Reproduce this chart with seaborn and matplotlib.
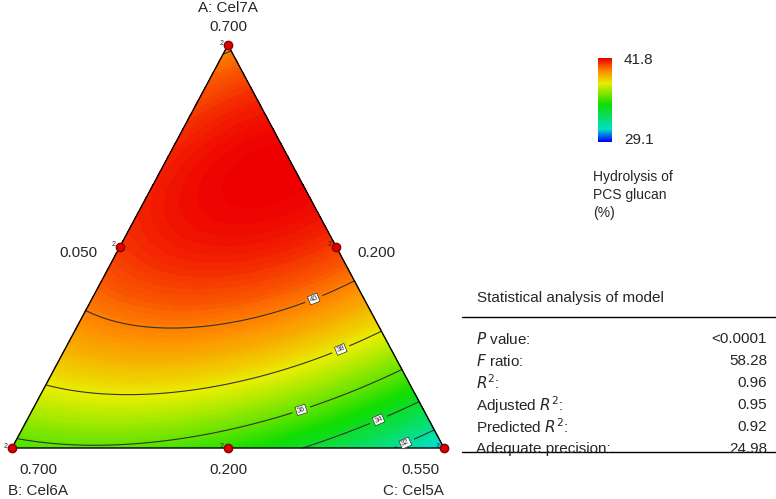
import matplotlib.pyplot as plt
import matplotlib.tri as mtri
import numpy as np
import seaborn as sns
from matplotlib.colors import LinearSegmentedColormap

# Scheffe quadratic model coefficients (pseudo-components A, B, C)
linear_coefs = [39.8, 35.6, 30.6]          # A: Cel7A, B: Cel6A, C: Cel5A
cross_coefs = [13.2, 23.0, 8.0]            # AB, AC, BC
contour_levels = [32, 34, 36, 38, 40]
range_lo, range_hi = 29.1, 41.8

stat_names = ["$P$ value:", "$F$ ratio:", "$R^2$:", "Adjusted $R^2$:", "Predicted $R^2$:", "Adequate precision:"]
stat_values = ["<0.0001", "58.28", "0.96", "0.95", "0.92", "24.98"]

sns.set_style("white")
plt.rcParams["font.family"] = ["Liberation Sans", "DejaVu Sans"]

fig = plt.figure(figsize=(7.76, 4.99), dpi=100)
ax = fig.add_axes([0, 0, 1, 1])
ax.set_xlim(0, 776)
ax.set_ylim(499, 0)
ax.axis("off")

# triangle vertices in pixel space
top = np.array([228, 45]); left = np.array([12, 448]); right = np.array([444, 448])

n = 120
pts, vals = [], []
for i in range(n + 1):
    for j in range(n + 1 - i):
        a = i / n; b = j / n; c = 1 - a - b
        p = a * top + b * left + c * right
        pts.append(p)
        y = (linear_coefs[0] * a + linear_coefs[1] * b + linear_coefs[2] * c
             + cross_coefs[0] * a * b + cross_coefs[1] * a * c + cross_coefs[2] * b * c)
        vals.append(y)
pts = np.array(pts); vals = np.array(vals)
tri = mtri.Triangulation(pts[:, 0], pts[:, 1])

cmap = LinearSegmentedColormap.from_list("de", [
    (0.0, "#0000ff"), (0.15, "#00e0c8"), (0.45, "#10dd00"), (0.7, "#e8ee00"),
    (0.85, "#ff8800"), (1.0, "#ee0000")])
ax.tricontourf(tri, vals, levels=np.linspace(range_lo, range_hi, 120), cmap=cmap, extend="both")
cs = ax.tricontour(tri, vals, levels=contour_levels, colors="#333333", linewidths=0.8)
labels = ax.clabel(cs, fmt="%d", fontsize=5.5, inline=True)
for t in labels:
    t.set_bbox(dict(facecolor="white", edgecolor="#333333", pad=0.6, linewidth=0.5))

# triangle edges
ax.plot([top[0], left[0], right[0], top[0]], [top[1], left[1], right[1], top[1]], color="black", lw=1)

# design points
design = [top, left, right, (top + left) / 2, (top + right) / 2, (left + right) / 2]
for p in design:
    ax.plot(p[0], p[1], "o", color="#dd0000", mec="#880000", ms=6, zorder=5)
    ax.text(p[0] - 6, p[1] - 2, "2", fontsize=5, ha="center", va="center", zorder=6)

fs = 11
ax.text(228, 8, "A: Cel7A", fontsize=fs, ha="center", va="center")
ax.text(228, 27, "0.700", fontsize=fs, ha="center", va="center")
ax.text(78, 253, "0.050", fontsize=fs, ha="center", va="center")
ax.text(376, 253, "0.200", fontsize=fs, ha="center", va="center")
ax.text(38, 470, "0.700", fontsize=fs, ha="center", va="center")
ax.text(228, 470, "0.200", fontsize=fs, ha="center", va="center")
ax.text(420, 470, "0.550", fontsize=fs, ha="center", va="center")
ax.text(8, 491, "B: Cel6A", fontsize=fs, ha="left", va="center")
ax.text(444, 491, "C: Cel5A", fontsize=fs, ha="right", va="center")

# colour bar
cax = fig.add_axes([598 / 776, 1 - 142 / 499, 14 / 776, 84 / 499])
cax.imshow(np.linspace(1, 0, 200)[:, None], aspect="auto", cmap=cmap)
cax.set_xticks([]); cax.set_yticks([])
for s in cax.spines.values():
    s.set_visible(False)
ax.text(624, 60, "41.8", fontsize=fs, va="center")
ax.text(624, 140, "29.1", fontsize=fs, va="center")
ax.text(593, 195, "Hydrolysis of\nPCS glucan\n(%)", fontsize=10, va="center", linespacing=1.4)

# statistics table
ax.text(570, 298, "Statistical analysis of model", fontsize=fs, ha="center", va="center")
ax.plot([462, 776], [317, 317], color="black", lw=1)
for k, (name, val) in enumerate(zip(stat_names, stat_values)):
    yy = 339 + k * 22
    ax.text(476, yy, name, fontsize=fs, va="center")
    ax.text(767, yy, val, fontsize=fs, va="center", ha="right")
ax.plot([462, 776], [452, 452], color="black", lw=1)

fig.savefig("out.png", dpi=100)
